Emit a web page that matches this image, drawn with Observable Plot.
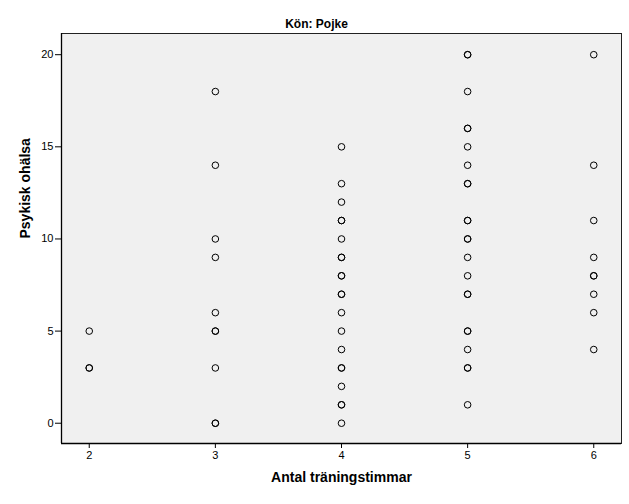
<!DOCTYPE html>
<html>
<head>
<meta charset="utf-8">
<script src="https://cdn.jsdelivr.net/npm/d3@7"></script>
<script src="https://cdn.jsdelivr.net/npm/@observablehq/plot@0.6"></script>
<style>
  html, body { margin: 0; padding: 0; background: #fff; }
  #chart svg { display: block; }
</style>
</head>
<body>
<div id="chart"></div>
<script>
const title = "Kön: Pojke";
const xLabel = "Antal träningstimmar";
const yLabel = "Psykisk ohälsa";
const xTicks = [2, 3, 4, 5, 6];
const yTicks = [0, 5, 10, 15, 20];

// Repeated values are overlapping observations (drawn darker)
const hours2 = [5, 3, 3];
const hours3 = [18, 14, 10, 9, 6, 5, 5, 3, 0, 0];
const hours4 = [15, 13, 12, 11, 11, 10, 9, 9, 8, 8, 7, 7, 6, 5, 4, 3, 3, 2, 1, 1, 0];
const hours5 = [20, 20, 18, 16, 16, 15, 14, 13, 13, 11, 11, 10, 10, 9, 8, 7, 7, 5, 5, 4, 3, 3, 1];
const hours6 = [20, 14, 11, 9, 8, 8, 7, 6, 4];

const groups = [[2, hours2], [3, hours3], [4, hours4], [5, hours5], [6, hours6]];
const data = groups.flatMap(([h, vals]) => vals.map(v => ({hours: h, health: v})));

const font = "'Liberation Sans', Arial, sans-serif";

const chart = Plot.plot({
  width: 629,
  height: 504,
  marginTop: 33,
  marginBottom: 61,
  marginLeft: 61,
  marginRight: 8,
  style: {fontFamily: font, fontSize: "11px", color: "black", background: "white"},
  x: {domain: [1.78, 6.22], ticks: xTicks, tickFormat: "d", tickSize: 5, tickPadding: 3},
  y: {domain: [-1.1, 21.15], ticks: yTicks, tickFormat: "d", tickSize: 6, tickPadding: 2},
  marks: [
    Plot.frame({fill: "#f0f0f0", stroke: "#222"}),
    Plot.axisX({ticks: xTicks, tickFormat: "d", tickSize: 5, tickPadding: 3, label: null, fontSize: 11}),
    Plot.axisY({ticks: yTicks, tickFormat: "d", tickSize: 6, tickPadding: 2, label: null, fontSize: 11}),
    Plot.ruleX([1.78], {stroke: "black", strokeWidth: 1.3}),
    Plot.ruleY([-1.1], {stroke: "black", strokeWidth: 1.3}),
    Plot.dot(data, {x: "hours", y: "health", r: 3.3, stroke: "black", strokeWidth: 1, fill: "none"}),
    Plot.text([title], {text: d => d, x: 4, frameAnchor: "top", dy: -14, dx: -25, fontWeight: "bold", fontSize: 12}),
    Plot.text([xLabel], {text: d => d, frameAnchor: "bottom", dy: 38, fontWeight: "bold", fontSize: 14}),
    Plot.text([yLabel], {text: d => d, frameAnchor: "left", dx: -36, rotate: -90, fontWeight: "bold", fontSize: 14})
  ]
});
document.getElementById("chart").appendChild(chart);
</script>
</body>
</html>
